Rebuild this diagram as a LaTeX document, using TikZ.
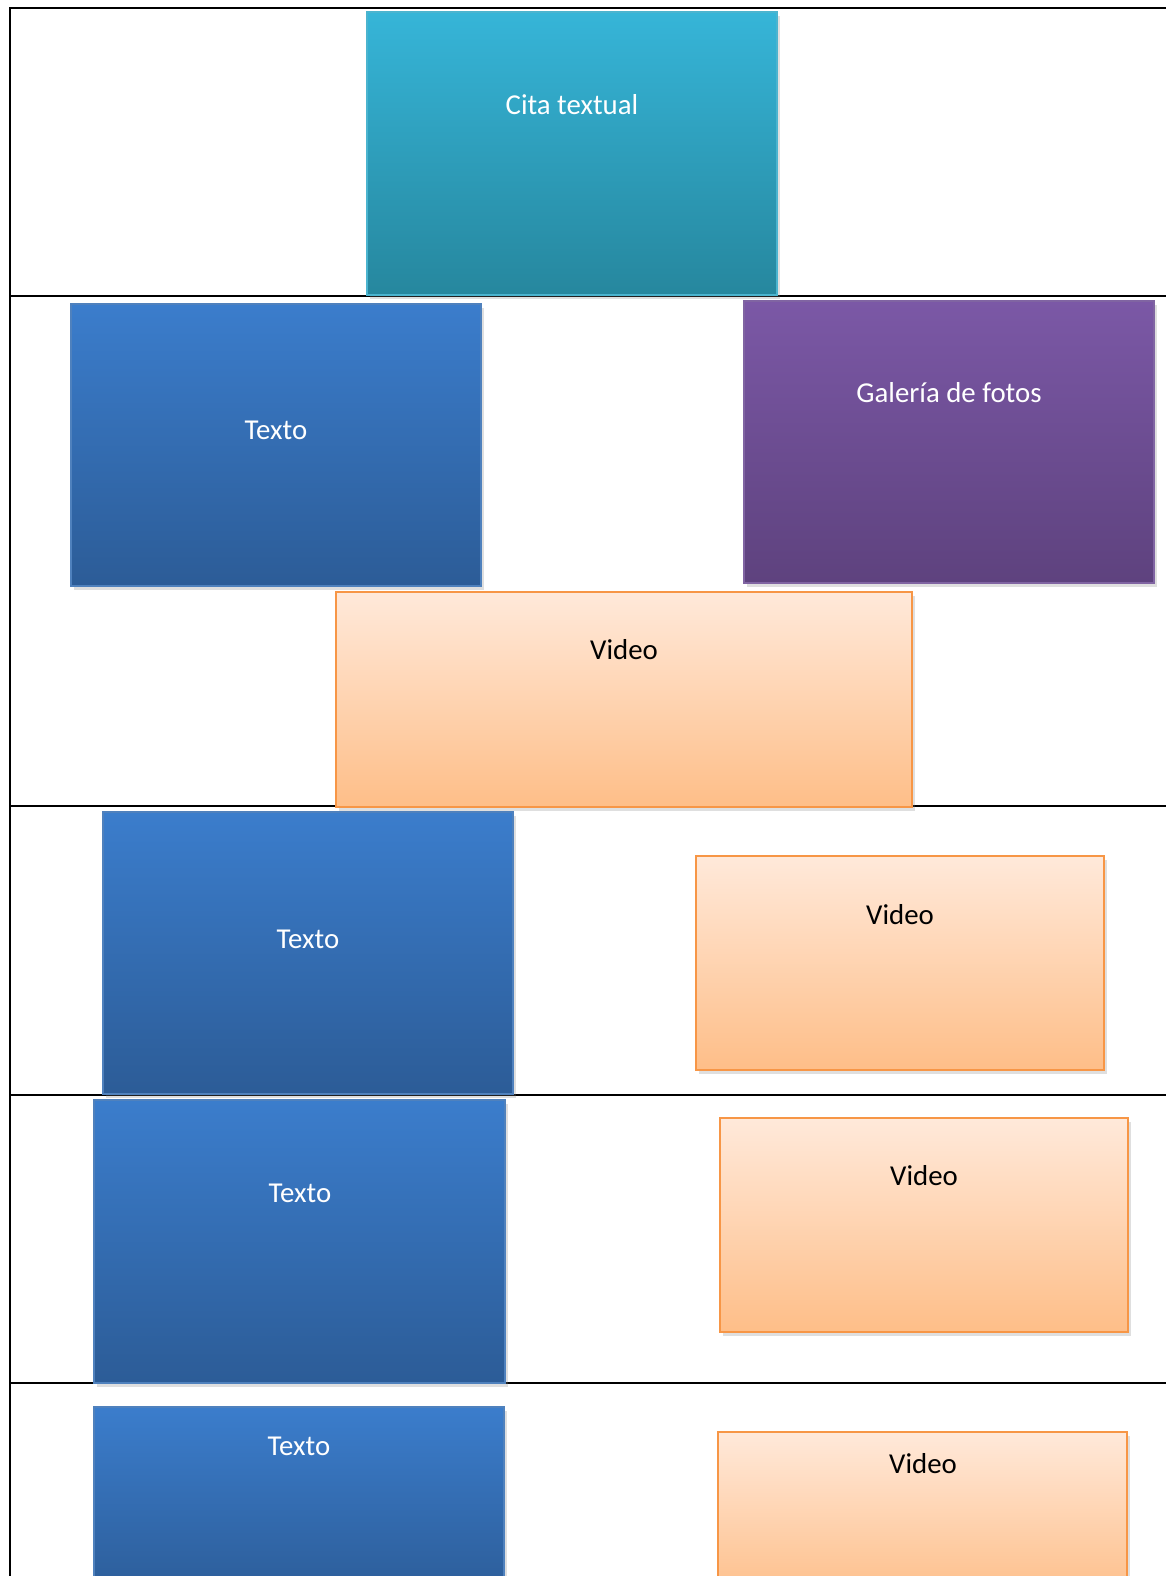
\documentclass[tikz,border=0pt]{standalone}
\usepackage{fontspec}
\setmainfont{Carlito}
\usetikzlibrary{fit,shadows}

\definecolor{citaTop}{HTML}{36B5D8}
\definecolor{citaBot}{HTML}{26879E}
\definecolor{citaLine}{HTML}{4BB4CF}
\definecolor{textoTop}{HTML}{3B7DCC}
\definecolor{textoBot}{HTML}{2C5C97}
\definecolor{textoLine}{HTML}{4F81BD}
\definecolor{fotoTop}{HTML}{7B58A6}
\definecolor{fotoBot}{HTML}{5E427E}
\definecolor{fotoLine}{HTML}{8064A2}
\definecolor{videoTop}{HTML}{FFE9DA}
\definecolor{videoBot}{HTML}{FEBE88}
\definecolor{videoLine}{HTML}{F79646}

\begin{document}
\begin{tikzpicture}[
    x=0.2mm, y=-0.2mm,
    grid/.style={line width=0.4mm},
    box/.style={draw, line width=0.6pt, inner sep=0pt, drop shadow={shadow xshift=0.5mm, shadow yshift=-0.7mm, opacity=0.25}},
    citabox/.style={box, draw=citaLine, top color=citaTop, bottom color=citaBot},
    textobox/.style={box, draw=textoLine, top color=textoTop, bottom color=textoBot},
    fotobox/.style={box, draw=fotoLine, top color=fotoTop, bottom color=fotoBot},
    videobox/.style={box, draw=videoLine, top color=videoTop, bottom color=videoBot},
    wtxt/.style={font=\fontsize{16.4}{20}\selectfont, text=white},
    btxt/.style={font=\fontsize{16.4}{20}\selectfont, text=black}
]
\useasboundingbox[fill=white] (0,0) rectangle (1166,1576);

% table rules
\draw[grid] (10,1576) -- (10,8) -- (1166,8);
\foreach \y in {296,806,1095,1383}
  \draw[grid] (10,\y) -- (1166,\y);

% row 1
\node[citabox, fit={(367,12) (777,295)}] (cita) {};
\node[wtxt] (citaT) at (572,105) {Cita textual};

% row 2
\node[textobox, fit={(71,304) (481,586)}] (texto1) {};
\node[wtxt] (texto1T) at (276,430) {Texto};
\node[fotobox, fit={(744,301) (1154,583)}] (fotos) {};
\node[wtxt] (fotosT) at (949,393) {Galería de fotos};
\node[videobox, fit={(336,592) (912,807)}] (video1) {};
\node[btxt] (video1T) at (624,650) {Video};

% row 3
\node[textobox, fit={(103,812) (513,1094)}] (texto2) {};
\node[wtxt] (texto2T) at (308,939) {Texto};
\node[videobox, fit={(696,856) (1104,1070)}] (video2) {};
\node[btxt] (video2T) at (900,915) {Video};

% row 4
\node[textobox, fit={(94,1100) (505,1383)}] (texto3) {};
\node[wtxt] (texto3T) at (300,1193) {Texto};
\node[videobox, fit={(720,1118) (1128,1332)}] (video3) {};
\node[btxt] (video3T) at (924,1176) {Video};

% row 5
\node[textobox, fit={(94,1407) (504,1600)}] (texto4) {};
\node[wtxt] (texto4T) at (299,1446) {Texto};
\node[videobox, fit={(718,1432) (1127,1600)}] (video4) {};
\node[btxt] (video4T) at (923,1464) {Video};
\end{tikzpicture}
\end{document}
